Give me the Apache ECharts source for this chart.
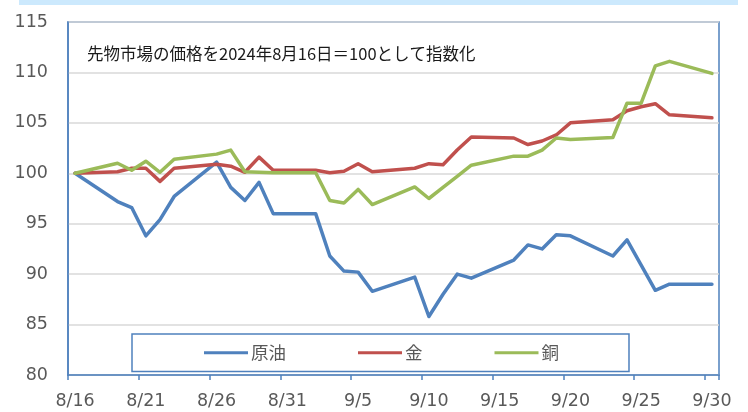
<!DOCTYPE html>
<html>
<head>
<meta charset="utf-8">
<script src="https://cdn.jsdelivr.net/npm/echarts@6/dist/echarts.min.js"></script>
<style>
html,body{margin:0;padding:0;background:#fff;}
#chart{width:748px;height:412px;}
</style>
</head>
<body>
<div id="chart"></div>
<script>
// Calendar days on the x axis (8/16 .. 9/30)
const calendarDays = [
  "8/16","8/17","8/18","8/19","8/20","8/21","8/22","8/23","8/24","8/25",
  "8/26","8/27","8/28","8/29","8/30","8/31","9/1","9/2","9/3","9/4",
  "9/5","9/6","9/7","9/8","9/9","9/10","9/11","9/12","9/13","9/14",
  "9/15","9/16","9/17","9/18","9/19","9/20","9/21","9/22","9/23","9/24",
  "9/25","9/26","9/27","9/28","9/29","9/30"
];
// Trading dates with observations
const tradeDates = [
  "8/16","8/19","8/20","8/21","8/22","8/23","8/26","8/27","8/28","8/29","8/30",
  "9/2","9/3","9/4","9/5","9/6","9/9","9/10","9/11","9/12","9/13",
  "9/16","9/17","9/18","9/19","9/20","9/23","9/24","9/25","9/26","9/27","9/30"
];
const crudeOil = [
  100, 97.2, 96.6, 93.8, 95.4, 97.7, 101.1, 98.6, 97.3, 99.1, 96.0,
  96.0, 91.8, 90.3, 90.2, 88.3, 89.7, 85.8, 88.0, 90.0, 89.6,
  91.4, 92.9, 92.5, 93.9, 93.8, 91.8, 93.4, 90.9, 88.4, 89.0, 89.0
];
const gold = [
  100, 100.15, 100.5, 100.5, 99.2, 100.5, 100.9, 100.7, 100.1, 101.6, 100.3,
  100.3, 100.05, 100.2, 100.95, 100.15, 100.5, 100.95, 100.85, 102.3, 103.6,
  103.5, 102.85, 103.2, 103.8, 105.0, 105.3, 106.2, 106.6, 106.9, 105.8, 105.5
];
const copper = [
  100, 101.0, 100.3, 101.2, 100.1, 101.4, 101.9, 102.3, 100.15, 100.1, 100.05,
  100.05, 97.3, 97.05, 98.4, 96.9, 98.65, 97.5, 98.6, 99.7, 100.8,
  101.7, 101.7, 102.3, 103.5, 103.35, 103.55, 106.95, 106.95, 110.65, 111.1, 109.9
];
const seriesNames = ["原油", "金", "銅"];
const yTicks = {min: 80, max: 115, step: 5};
const titleText = "先物市場の価格を2024年8月16日＝100として指数化";

function spread(values) {
  const out = calendarDays.map(() => null);
  tradeDates.forEach((d, i) => { out[calendarDays.indexOf(d)] = values[i]; });
  return out;
}

const BLUE = "#4F81BD", RED = "#C0504D", GREEN = "#9BBB59";
const AXIS = "#4F81BD";
const numFont = "'DejaVu Sans'";
const jpFont = "'Noto Sans CJK JP'";

function mkSeries(name, vals, color) {
  return {
    name: name, type: "line", data: spread(vals), connectNulls: true,
    showSymbol: false, symbol: "none", animation: false,
    lineStyle: {color: color, width: 3.5, cap: "round", join: "round"},
    itemStyle: {color: color}
  };
}

const chart = echarts.init(document.getElementById("chart"), null, {renderer: "canvas"});
chart.setOption({
  animation: false,
  backgroundColor: "#fff",
  graphic: [{
    type: "rect", shape: {x: 19, y: 0, width: 719, height: 5},
    style: {fill: "#cce9fd"}, silent: true
  }],
  title: {
    text: titleText, left: 82, top: 40,
    textStyle: {fontFamily: jpFont, fontSize: 16.5, fontWeight: "normal", color: "#1a1a1a"}
  },
  grid: {
    left: 68, right: 29, top: 22, bottom: 37, show: true,
    borderColor: AXIS, borderWidth: 1.5, backgroundColor: "transparent"
  },
  legend: {
    data: seriesNames, left: 132, top: 334,
    padding: [10, 70, 10, 72], itemGap: 72, itemWidth: 44, itemHeight: 3,
    icon: "rect", borderColor: AXIS, borderWidth: 1.5, backgroundColor: "#fff",
    textStyle: {fontFamily: jpFont, fontSize: 17.5, color: "#595959", padding: [0, 0, 0, -2]}
  },
  xAxis: {
    type: "category", data: calendarDays, boundaryGap: true,
    axisLine: {show: true, lineStyle: {color: AXIS, width: 1.5}},
    axisTick: {show: true, interval: 4, length: 5, alignWithLabel: false, lineStyle: {color: AXIS, width: 1.5}},
    axisLabel: {interval: 4, margin: 17, fontFamily: numFont, fontSize: 17.5, color: "#595959"},
    splitLine: {show: false}
  },
  yAxis: {
    type: "value", min: yTicks.min, max: yTicks.max, interval: yTicks.step,
    axisLine: {show: true, lineStyle: {color: AXIS, width: 1.5}},
    axisTick: {show: false},
    axisLabel: {margin: 20, fontFamily: numFont, fontSize: 17.5, color: "#595959"},
    splitLine: {show: true, lineStyle: {color: "#d9d9d9", width: 1.5}}
  },
  series: [
    mkSeries(seriesNames[0], crudeOil, BLUE),
    mkSeries(seriesNames[1], gold, RED),
    mkSeries(seriesNames[2], copper, GREEN)
  ]
});
</script>
</body>
</html>
